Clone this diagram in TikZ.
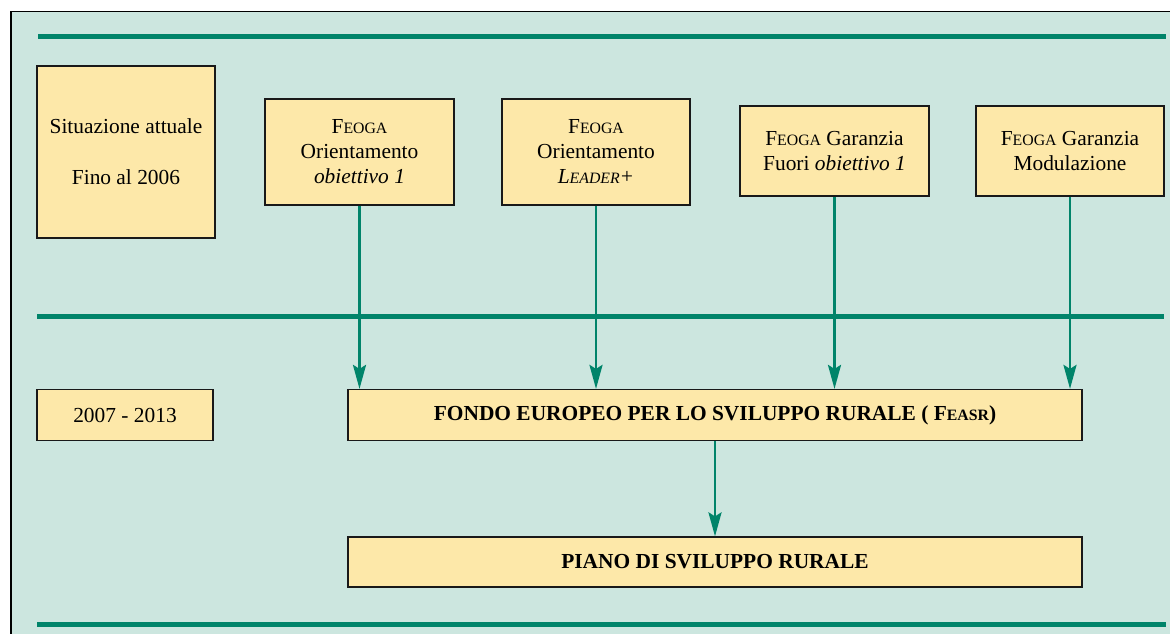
\documentclass[tikz,border=0pt]{standalone}
\usepackage{fontspec}
\setmainfont{Liberation Serif}
\usetikzlibrary{arrows.meta}
\definecolor{bgc}{HTML}{CCE6DF}
\definecolor{boxc}{HTML}{FDE8A9}
\definecolor{grn}{HTML}{00846A}
\newcommand\fakesc[1]{{\fontsize{15.8}{25}\selectfont #1}}
\newcommand\feoga{F\fakesc{EOGA}}
\tikzset{
  box/.style={draw=black!90, line width=1.2pt, fill=boxc, inner sep=0pt, align=center,
    font=\fontsize{21.4}{25}\selectfont},
  gline/.style={draw=grn, line width=5pt},
  arr/.style={draw=grn, line width=2.8pt, -{Stealth[length=24pt,width=13pt,inset=4pt]}},
}
\begin{document}
\begin{tikzpicture}[x=1pt,y=-1pt]
\useasboundingbox (0,0) rectangle (1170,634);
\clip (0,0) rectangle (1170,634);
\fill[bgc] (11,11.5) rectangle (1185,650);
\draw[line width=1.5pt, black] (11,650) -- (11,11.5) -- (1185,11.5);
\draw[gline] (38,37) -- (1166,37);
\draw[gline] (37,316) -- (1164,316);
\draw[gline] (37,624) -- (1166,624);

\node[box, minimum width=178pt, minimum height=172pt] (sit) at (126,152)
  {Situazione attuale\\[26pt]Fino al 2006};
\node[box, minimum width=189pt, minimum height=106pt] (f1) at (359.5,152)
  {\feoga\\Orientamento\\\textit{obiettivo 1}};
\node[box, minimum width=188pt, minimum height=106pt] (f2) at (596,152)
  {\feoga\\Orientamento\\\textit{L\fakesc{EADER}+}};
\node[box, minimum width=189pt, minimum height=90pt] (f3) at (834.5,151)
  {\feoga{} Garanzia\\Fuori \textit{obiettivo 1}};
\node[box, minimum width=188pt, minimum height=90pt] (f4) at (1070,151)
  {\feoga{} Garanzia\\Modulazione};
\node[box, minimum width=176pt, minimum height=51pt] (per) at (125,415) {2007 - 2013};
\node[box, minimum width=734pt, minimum height=51pt] (fondo) at (715,415)
  {\textbf{FONDO EUROPEO PER LO SVILUPPO RURALE ( F\fakesc{EASR})}};
\node[box, minimum width=734pt, minimum height=50pt] (piano) at (715,562)
  {\textbf{PIANO DI SVILUPPO RURALE}};

\draw[arr] (f1.south) -- (f1.south |- fondo.north);
\draw[arr] (f2.south) -- (f2.south |- fondo.north);
\draw[arr] (f3.south) -- (f3.south |- fondo.north);
\draw[arr] (f4.south) -- (f4.south |- fondo.north);
\draw[arr] (fondo.south) -- (piano.north);
\end{tikzpicture}
\end{document}
